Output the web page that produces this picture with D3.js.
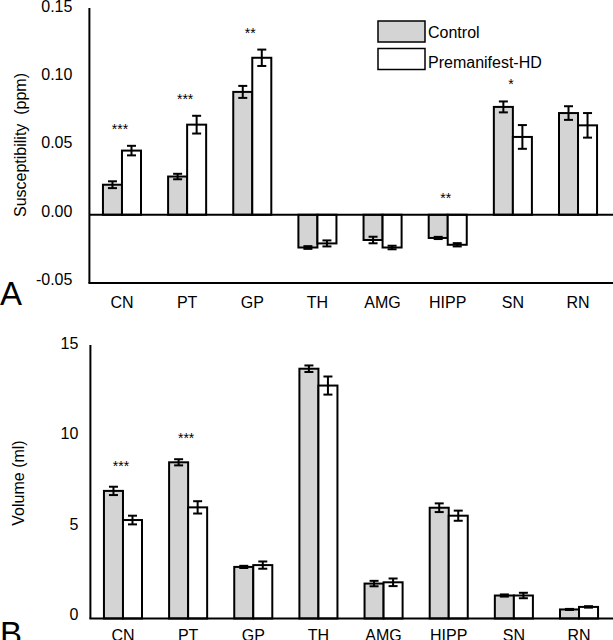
<!DOCTYPE html>
<html>
<head>
  <script src="https://d3js.org/d3.v7.min.js"></script>
  <style>
    body { margin: 0; background: #fff; }
    svg { font-family: "Liberation Sans", Arial, sans-serif; }
  </style>
</head>
<body>
  <script>
    // Brain regions (x categories)
    var regions = ["CN", "PT", "GP", "TH", "AMG", "HIPP", "SN", "RN"];
    var groups = ["Control", "Premanifest-HD"];

    // Panel A: susceptibility (ppm)
    var suscControl = [0.022, 0.028, 0.090, -0.024, -0.0185, -0.017, 0.079, 0.0745];
    var suscControlErr = [0.0025, 0.002, 0.0044, 0.001, 0.0024, 0.0008, 0.004, 0.005];
    var suscPre = [0.047, 0.066, 0.115, -0.021, -0.024, -0.022, 0.057, 0.0655];
    var suscPreErr = [0.0035, 0.0065, 0.006, 0.0022, 0.0013, 0.0012, 0.0087, 0.009];
    var suscStars = ["***", "***", "**", "", "", "**", "*", ""];
    var suscTicks = [-0.05, 0, 0.05, 0.10, 0.15];

    // Panel B: volume (ml)
    var volControl = [7.05, 8.63, 2.85, 13.8, 1.93, 6.12, 1.27, 0.5];
    var volControlErr = [0.23, 0.17, 0.06, 0.18, 0.15, 0.24, 0.06, 0.03];
    var volPre = [5.44, 6.14, 2.95, 12.87, 2.0, 5.68, 1.27, 0.64];
    var volPreErr = [0.24, 0.34, 0.2, 0.5, 0.21, 0.28, 0.15, 0.04];
    var volStars = ["***", "***", "", "", "", "", "", ""];
    var volTicks = [0, 5, 10, 15];

    var W = 613, H = 640;
    var gray = "#d4d4d4";

    var svg = d3.select("body").append("svg")
      .attr("width", W)
      .attr("height", H);

    function drawPanel(opt) {
      var g = svg.append("g");

      var x = d3.scaleBand()
        .domain(regions)
        .range(opt.xRange)
        .paddingInner(0.416)
        .paddingOuter(0.208);
      var xs = d3.scaleBand()
        .domain(groups)
        .range([0, x.bandwidth()]);
      var y = d3.scaleLinear()
        .domain(opt.yDomain)
        .range(opt.yRange);

      var rows = regions.map(function(r, i) {
        return {
          region: r,
          stars: opt.stars[i],
          bars: [
            {group: groups[0], v: opt.control[i], e: opt.controlErr[i]},
            {group: groups[1], v: opt.pre[i], e: opt.preErr[i]}
          ]
        };
      });

      // bars
      var rg = g.selectAll(".region")
        .data(rows)
        .enter().append("g")
        .attr("transform", function(d) { return "translate(" + x(d.region) + ",0)"; });

      rg.selectAll("rect")
        .data(function(d) { return d.bars; })
        .enter().append("rect")
        .attr("x", function(d) { return xs(d.group); })
        .attr("width", xs.bandwidth())
        .attr("y", function(d) { return Math.min(y(d.v), y(0)); })
        .attr("height", function(d) { return Math.abs(y(d.v) - y(0)); })
        .attr("fill", function(d) { return d.group === groups[0] ? gray : "#fff"; })
        .attr("stroke", "#000")
        .attr("stroke-width", 2);

      // error bars
      var eb = rg.selectAll(".err")
        .data(function(d) { return d.bars; })
        .enter().append("g")
        .attr("stroke", "#000")
        .attr("stroke-width", 2);
      eb.append("line")
        .attr("x1", function(d) { return xs(d.group) + xs.bandwidth() / 2; })
        .attr("x2", function(d) { return xs(d.group) + xs.bandwidth() / 2; })
        .attr("y1", function(d) { return y(d.v - d.e); })
        .attr("y2", function(d) { return y(d.v + d.e); });
      [-1, 1].forEach(function(s) {
        eb.append("line")
          .attr("x1", function(d) { return xs(d.group) + xs.bandwidth() / 2 - 4.5; })
          .attr("x2", function(d) { return xs(d.group) + xs.bandwidth() / 2 + 4.5; })
          .attr("y1", function(d) { return y(d.v + s * d.e); })
          .attr("y2", function(d) { return y(d.v + s * d.e); });
      });

      // significance stars
      rg.append("text")
        .attr("x", x.bandwidth() / 2 - 2)
        .attr("y", function(d) {
          var top = d3.max(d.bars, function(b) { return Math.max(0, b.v + b.e); });
          return y(top) - opt.starGap + 8;
        })
        .attr("text-anchor", "middle")
        .attr("font-size", 14)
        .text(function(d) { return d.stars; });

      // zero line (panel A)
      if (opt.yDomain[0] < 0) {
        g.append("line")
          .attr("x1", opt.xRange[0]).attr("x2", W)
          .attr("y1", y(0)).attr("y2", y(0))
          .attr("stroke", "#000").attr("stroke-width", 2);
      }

      // x axis
      var xAxis = g.append("g")
        .attr("transform", "translate(0," + opt.yRange[0] + ")")
        .call(d3.axisBottom(x).tickSize(0).tickPadding(opt.xPad));
      xAxis.select(".domain").remove();
      xAxis.append("line")
        .attr("x1", opt.xRange[0] - 1).attr("x2", W)
        .attr("stroke", "#000").attr("stroke-width", 2);
      xAxis.selectAll("text")
        .attr("font-size", 16)
        .attr("fill", "#000");

      // y axis
      var yAxis = g.append("g")
        .attr("transform", "translate(" + opt.xRange[0] + ",0)")
        .call(d3.axisLeft(y).tickValues(opt.ticks).tickFormat(opt.fmt).tickSize(0).tickPadding(opt.yPad));
      yAxis.select(".domain")
        .attr("stroke-width", 2)
        .attr("d", "M0," + opt.yRange[0] + "V" + (opt.yRange[1] - 2));
      yAxis.selectAll("text")
        .attr("font-size", 16)
        .attr("dy", "0.08em")
        .attr("fill", "#000");

      // y title
      g.append("text")
        .attr("transform", "translate(" + opt.titleX + "," + opt.titleY + ") rotate(-90)")
        .attr("text-anchor", "middle")
        .attr("font-size", 16)
        .style("white-space", "pre")
        .text(opt.title);

      // panel letter
      g.append("text")
        .attr("x", 0)
        .attr("y", opt.letterY)
        .attr("font-size", 33)
        .text(opt.letter);
    }

    drawPanel({
      xRange: [89.4, 610.6],
      yDomain: [-0.05, 0.15],
      yRange: [283, 10],
      ticks: suscTicks,
      fmt: function(d) { return d.toFixed(2); },
      control: suscControl, controlErr: suscControlErr,
      pre: suscPre, preErr: suscPreErr,
      stars: suscStars,
      starGap: 20,
      xPad: 14,
      yPad: 17,
      title: "Susceptibility  (ppm)",
      titleX: 26, titleY: 145,
      letter: "A", letterY: 305
    });

    drawPanel({
      xRange: [90.4, 611.6],
      yDomain: [0, 15],
      yRange: [618.5, 347],
      ticks: volTicks,
      fmt: d3.format("d"),
      control: volControl, controlErr: volControlErr,
      pre: volPre, preErr: volPreErr,
      stars: volStars,
      starGap: 24,
      xPad: 11,
      yPad: 12,
      title: "Volume (ml)",
      titleX: 24, titleY: 483,
      letter: "B", letterY: 645
    });

    // legend
    var legend = svg.append("g");
    legend.selectAll("rect")
      .data(groups)
      .enter().append("rect")
      .attr("x", 378)
      .attr("y", function(d, i) { return 21 + i * 27.5; })
      .attr("width", 47)
      .attr("height", 21)
      .attr("fill", function(d, i) { return i === 0 ? gray : "#fff"; })
      .attr("stroke", "#000")
      .attr("stroke-width", 1.5);
    legend.selectAll("text")
      .data(groups)
      .enter().append("text")
      .attr("x", 428)
      .attr("y", function(d, i) { return 37.5 + i * 30.5; })
      .attr("font-size", 16)
      .text(function(d) { return d; });
  </script>
</body>
</html>
